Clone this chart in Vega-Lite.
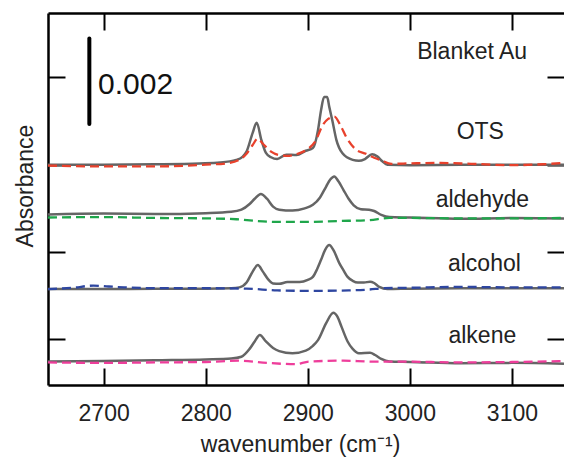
{
 "$schema": "https://vega.github.io/schema/vega-lite/v6.json",
 "width": 516,
 "height": 372,
 "autosize": {"type": "none"},
 "padding": {"left": 48, "top": 13, "right": 0, "bottom": 75},
 "config": {"font": "Liberation Sans", "view": {"stroke": null}, "axis": {"grid": false}},
 "datasets": {
  "spectra": [
   {"s":"OTS","k":"measured","w":2645.5,"a":4.00},{"s":"OTS","k":"measured","w":2700,"a":4.00},{"s":"OTS","k":"measured","w":2750,"a":4.01},{"s":"OTS","k":"measured","w":2794,"a":4.03},{"s":"OTS","k":"measured","w":2814,"a":4.05},{"s":"OTS","k":"measured","w":2830,"a":4.11},{"s":"OTS","k":"measured","w":2836,"a":4.18},{"s":"OTS","k":"measured","w":2840,"a":4.30},{"s":"OTS","k":"measured","w":2846,"a":4.73},{"s":"OTS","k":"measured","w":2850,"a":4.96},{"s":"OTS","k":"measured","w":2854.5,"a":4.57},{"s":"OTS","k":"measured","w":2859,"a":4.27},{"s":"OTS","k":"measured","w":2864,"a":4.17},{"s":"OTS","k":"measured","w":2870,"a":4.13},{"s":"OTS","k":"measured","w":2879,"a":4.23},{"s":"OTS","k":"measured","w":2889,"a":4.22},{"s":"OTS","k":"measured","w":2898,"a":4.32},{"s":"OTS","k":"measured","w":2905,"a":4.38},{"s":"OTS","k":"measured","w":2910,"a":4.79},{"s":"OTS","k":"measured","w":2913,"a":5.25},{"s":"OTS","k":"measured","w":2916,"a":5.55},{"s":"OTS","k":"measured","w":2919,"a":5.55},{"s":"OTS","k":"measured","w":2921,"a":5.33},{"s":"OTS","k":"measured","w":2924,"a":5.02},{"s":"OTS","k":"measured","w":2928,"a":4.57},{"s":"OTS","k":"measured","w":2934,"a":4.26},{"s":"OTS","k":"measured","w":2944,"a":4.11},{"s":"OTS","k":"measured","w":2950,"a":4.09},{"s":"OTS","k":"measured","w":2956,"a":4.13},{"s":"OTS","k":"measured","w":2963,"a":4.24},{"s":"OTS","k":"measured","w":2968,"a":4.19},{"s":"OTS","k":"measured","w":2973,"a":4.08},{"s":"OTS","k":"measured","w":2978,"a":4.00},{"s":"OTS","k":"measured","w":3000,"a":3.99},{"s":"OTS","k":"measured","w":3050,"a":4.00},{"s":"OTS","k":"measured","w":3100,"a":4.00},{"s":"OTS","k":"measured","w":3151,"a":4.00},

   {"s":"OTS","k":"reference","w":2645.5,"a":3.98},{"s":"OTS","k":"reference","w":2700,"a":3.96},{"s":"OTS","k":"reference","w":2750,"a":3.96},{"s":"OTS","k":"reference","w":2800,"a":4.00},{"s":"OTS","k":"reference","w":2820,"a":4.03},{"s":"OTS","k":"reference","w":2832,"a":4.10},{"s":"OTS","k":"reference","w":2840,"a":4.25},{"s":"OTS","k":"reference","w":2846,"a":4.45},{"s":"OTS","k":"reference","w":2851,"a":4.60},{"s":"OTS","k":"reference","w":2856,"a":4.48},{"s":"OTS","k":"reference","w":2864,"a":4.30},{"s":"OTS","k":"reference","w":2872,"a":4.22},{"s":"OTS","k":"reference","w":2880,"a":4.20},{"s":"OTS","k":"reference","w":2890,"a":4.25},{"s":"OTS","k":"reference","w":2898,"a":4.33},{"s":"OTS","k":"reference","w":2907,"a":4.52},{"s":"OTS","k":"reference","w":2915,"a":4.92},{"s":"OTS","k":"reference","w":2920,"a":5.05},{"s":"OTS","k":"reference","w":2926,"a":5.10},{"s":"OTS","k":"reference","w":2932,"a":4.90},{"s":"OTS","k":"reference","w":2938,"a":4.62},{"s":"OTS","k":"reference","w":2947,"a":4.35},{"s":"OTS","k":"reference","w":2957,"a":4.25},{"s":"OTS","k":"reference","w":2965,"a":4.16},{"s":"OTS","k":"reference","w":2972,"a":4.10},{"s":"OTS","k":"reference","w":2982,"a":4.02},{"s":"OTS","k":"reference","w":3000,"a":4.03},{"s":"OTS","k":"reference","w":3030,"a":4.04},{"s":"OTS","k":"reference","w":3060,"a":4.02},{"s":"OTS","k":"reference","w":3100,"a":3.99},{"s":"OTS","k":"reference","w":3130,"a":4.01},{"s":"OTS","k":"reference","w":3151,"a":4.04},

   {"s":"aldehyde","k":"measured","w":2645.5,"a":2.86},{"s":"aldehyde","k":"measured","w":2700,"a":2.88},{"s":"aldehyde","k":"measured","w":2750,"a":2.87},{"s":"aldehyde","k":"measured","w":2800,"a":2.89},{"s":"aldehyde","k":"measured","w":2825,"a":2.92},{"s":"aldehyde","k":"measured","w":2835,"a":2.97},{"s":"aldehyde","k":"measured","w":2843,"a":3.10},{"s":"aldehyde","k":"measured","w":2848,"a":3.22},{"s":"aldehyde","k":"measured","w":2854,"a":3.33},{"s":"aldehyde","k":"measured","w":2860,"a":3.22},{"s":"aldehyde","k":"measured","w":2866,"a":3.04},{"s":"aldehyde","k":"measured","w":2872,"a":2.97},{"s":"aldehyde","k":"measured","w":2885,"a":2.95},{"s":"aldehyde","k":"measured","w":2897,"a":3.00},{"s":"aldehyde","k":"measured","w":2905,"a":3.08},{"s":"aldehyde","k":"measured","w":2912,"a":3.25},{"s":"aldehyde","k":"measured","w":2918,"a":3.50},{"s":"aldehyde","k":"measured","w":2922,"a":3.66},{"s":"aldehyde","k":"measured","w":2926,"a":3.73},{"s":"aldehyde","k":"measured","w":2930,"a":3.62},{"s":"aldehyde","k":"measured","w":2935,"a":3.42},{"s":"aldehyde","k":"measured","w":2940,"a":3.22},{"s":"aldehyde","k":"measured","w":2945,"a":3.07},{"s":"aldehyde","k":"measured","w":2952,"a":2.98},{"s":"aldehyde","k":"measured","w":2960,"a":2.97},{"s":"aldehyde","k":"measured","w":2965,"a":2.94},{"s":"aldehyde","k":"measured","w":2972,"a":2.85},{"s":"aldehyde","k":"measured","w":2980,"a":2.80},{"s":"aldehyde","k":"measured","w":3000,"a":2.79},{"s":"aldehyde","k":"measured","w":3050,"a":2.76},{"s":"aldehyde","k":"measured","w":3100,"a":2.78},{"s":"aldehyde","k":"measured","w":3151,"a":2.77},

   {"s":"aldehyde","k":"reference","w":2645.5,"a":2.79},{"s":"aldehyde","k":"reference","w":2700,"a":2.80},{"s":"aldehyde","k":"reference","w":2750,"a":2.78},{"s":"aldehyde","k":"reference","w":2800,"a":2.77},{"s":"aldehyde","k":"reference","w":2830,"a":2.75},{"s":"aldehyde","k":"reference","w":2850,"a":2.71},{"s":"aldehyde","k":"reference","w":2870,"a":2.69},{"s":"aldehyde","k":"reference","w":2900,"a":2.69},{"s":"aldehyde","k":"reference","w":2930,"a":2.71},{"s":"aldehyde","k":"reference","w":2960,"a":2.73},{"s":"aldehyde","k":"reference","w":2980,"a":2.78},{"s":"aldehyde","k":"reference","w":3000,"a":2.78},{"s":"aldehyde","k":"reference","w":3050,"a":2.77},{"s":"aldehyde","k":"reference","w":3100,"a":2.77},{"s":"aldehyde","k":"reference","w":3151,"a":2.78},

   {"s":"alcohol","k":"measured","w":2645.5,"a":1.15},{"s":"alcohol","k":"measured","w":2700,"a":1.15},{"s":"alcohol","k":"measured","w":2750,"a":1.16},{"s":"alcohol","k":"measured","w":2800,"a":1.16},{"s":"alcohol","k":"measured","w":2825,"a":1.17},{"s":"alcohol","k":"measured","w":2833,"a":1.19},{"s":"alcohol","k":"measured","w":2840,"a":1.30},{"s":"alcohol","k":"measured","w":2846,"a":1.55},{"s":"alcohol","k":"measured","w":2851,"a":1.70},{"s":"alcohol","k":"measured","w":2856,"a":1.55},{"s":"alcohol","k":"measured","w":2861,"a":1.38},{"s":"alcohol","k":"measured","w":2866,"a":1.28},{"s":"alcohol","k":"measured","w":2872,"a":1.27},{"s":"alcohol","k":"measured","w":2880,"a":1.31},{"s":"alcohol","k":"measured","w":2892,"a":1.31},{"s":"alcohol","k":"measured","w":2900,"a":1.36},{"s":"alcohol","k":"measured","w":2905,"a":1.43},{"s":"alcohol","k":"measured","w":2909,"a":1.60},{"s":"alcohol","k":"measured","w":2913,"a":1.82},{"s":"alcohol","k":"measured","w":2917,"a":2.05},{"s":"alcohol","k":"measured","w":2921,"a":2.16},{"s":"alcohol","k":"measured","w":2925,"a":2.05},{"s":"alcohol","k":"measured","w":2931,"a":1.74},{"s":"alcohol","k":"measured","w":2935,"a":1.58},{"s":"alcohol","k":"measured","w":2939,"a":1.43},{"s":"alcohol","k":"measured","w":2944,"a":1.34},{"s":"alcohol","k":"measured","w":2949,"a":1.30},{"s":"alcohol","k":"measured","w":2955,"a":1.30},{"s":"alcohol","k":"measured","w":2961,"a":1.32},{"s":"alcohol","k":"measured","w":2965,"a":1.29},{"s":"alcohol","k":"measured","w":2970,"a":1.20},{"s":"alcohol","k":"measured","w":2978,"a":1.15},{"s":"alcohol","k":"measured","w":3000,"a":1.16},{"s":"alcohol","k":"measured","w":3050,"a":1.17},{"s":"alcohol","k":"measured","w":3100,"a":1.17},{"s":"alcohol","k":"measured","w":3151,"a":1.17},

   {"s":"alcohol","k":"reference","w":2645.5,"a":1.15},{"s":"alcohol","k":"reference","w":2670,"a":1.18},{"s":"alcohol","k":"reference","w":2690,"a":1.23},{"s":"alcohol","k":"reference","w":2705,"a":1.21},{"s":"alcohol","k":"reference","w":2720,"a":1.19},{"s":"alcohol","k":"reference","w":2760,"a":1.17},{"s":"alcohol","k":"reference","w":2800,"a":1.17},{"s":"alcohol","k":"reference","w":2840,"a":1.16},{"s":"alcohol","k":"reference","w":2870,"a":1.12},{"s":"alcohol","k":"reference","w":2900,"a":1.11},{"s":"alcohol","k":"reference","w":2940,"a":1.12},{"s":"alcohol","k":"reference","w":2960,"a":1.14},{"s":"alcohol","k":"reference","w":2975,"a":1.17},{"s":"alcohol","k":"reference","w":3000,"a":1.18},{"s":"alcohol","k":"reference","w":3050,"a":1.20},{"s":"alcohol","k":"reference","w":3100,"a":1.19},{"s":"alcohol","k":"reference","w":3151,"a":1.19},

   {"s":"alkene","k":"measured","w":2645.5,"a":-0.51},{"s":"alkene","k":"measured","w":2700,"a":-0.50},{"s":"alkene","k":"measured","w":2750,"a":-0.48},{"s":"alkene","k":"measured","w":2800,"a":-0.46},{"s":"alkene","k":"measured","w":2825,"a":-0.44},{"s":"alkene","k":"measured","w":2835,"a":-0.40},{"s":"alkene","k":"measured","w":2843,"a":-0.22},{"s":"alkene","k":"measured","w":2848,"a":-0.05},{"s":"alkene","k":"measured","w":2853,"a":0.10},{"s":"alkene","k":"measured","w":2859,"a":-0.05},{"s":"alkene","k":"measured","w":2866,"a":-0.20},{"s":"alkene","k":"measured","w":2872,"a":-0.27},{"s":"alkene","k":"measured","w":2885,"a":-0.32},{"s":"alkene","k":"measured","w":2898,"a":-0.26},{"s":"alkene","k":"measured","w":2905,"a":-0.15},{"s":"alkene","k":"measured","w":2910,"a":-0.02},{"s":"alkene","k":"measured","w":2918,"a":0.37},{"s":"alkene","k":"measured","w":2925,"a":0.61},{"s":"alkene","k":"measured","w":2929,"a":0.52},{"s":"alkene","k":"measured","w":2933,"a":0.29},{"s":"alkene","k":"measured","w":2939,"a":-0.05},{"s":"alkene","k":"measured","w":2944,"a":-0.22},{"s":"alkene","k":"measured","w":2950,"a":-0.32},{"s":"alkene","k":"measured","w":2961,"a":-0.31},{"s":"alkene","k":"measured","w":2966,"a":-0.36},{"s":"alkene","k":"measured","w":2972,"a":-0.45},{"s":"alkene","k":"measured","w":2980,"a":-0.51},{"s":"alkene","k":"measured","w":3000,"a":-0.52},{"s":"alkene","k":"measured","w":3050,"a":-0.55},{"s":"alkene","k":"measured","w":3100,"a":-0.54},{"s":"alkene","k":"measured","w":3151,"a":-0.56},

   {"s":"alkene","k":"reference","w":2645.5,"a":-0.53},{"s":"alkene","k":"reference","w":2700,"a":-0.54},{"s":"alkene","k":"reference","w":2750,"a":-0.53},{"s":"alkene","k":"reference","w":2800,"a":-0.52},{"s":"alkene","k":"reference","w":2833,"a":-0.49},{"s":"alkene","k":"reference","w":2860,"a":-0.54},{"s":"alkene","k":"reference","w":2888,"a":-0.57},{"s":"alkene","k":"reference","w":2901,"a":-0.51},{"s":"alkene","k":"reference","w":2935,"a":-0.49},{"s":"alkene","k":"reference","w":2963,"a":-0.51},{"s":"alkene","k":"reference","w":2990,"a":-0.51},{"s":"alkene","k":"reference","w":3050,"a":-0.53},{"s":"alkene","k":"reference","w":3100,"a":-0.52},{"s":"alkene","k":"reference","w":3151,"a":-0.50}
  ],
  "labels": [
   {"label":"Blanket Au","w":3061,"a":6.42},
   {"label":"OTS","w":3069,"a":4.58},
   {"label":"aldehyde","w":3071,"a":3.04},
   {"label":"alcohol","w":3073,"a":1.57},
   {"label":"alkene","w":3071,"a":-0.08}
  ],
  "bar": [{"w":2686,"lo":4.93,"hi":6.89,"text":"0.002","tw":2694.5,"ta":5.62}]
 },
 "layer": [
  {
   "data": {"name": "spectra"},
   "transform": [{"filter": "datum.k === 'measured'"}],
   "mark": {"type": "line", "color": "#656565", "strokeWidth": 2.5, "interpolate": "monotone"},
   "encoding": {
    "x": {"field": "w", "type": "quantitative", "scale": {"domain": [2645.5, 3151], "nice": false, "zero": false},
     "axis": {"orient": "bottom", "title": "wavenumber (cm⁻¹)", "values": [2700, 2800, 2900, 3000, 3100], "format": "d",
      "tickSize": -17, "tickWidth": 2, "tickColor": "#000", "domainColor": "#000", "domainWidth": 2.5,
      "labelFontSize": 23, "labelColor": "#222", "labelPadding": 34, "labelFlush": false,
      "titleFontSize": 23, "titleFontWeight": "normal", "titleColor": "#222", "titlePadding": 8, "titleX": 252, "grid": false}},
    "y": {"field": "a", "type": "quantitative", "scale": {"domain": [-1.047, 7.475], "nice": false, "zero": false},
     "axis": {"orient": "left", "title": "Absorbance", "labels": false, "values": [0, 2, 4, 6],
      "tickSize": -17, "tickWidth": 2, "tickColor": "#000", "domainColor": "#000", "domainWidth": 2.5,
      "titleFontSize": 23, "titleFontWeight": "normal", "titleColor": "#222", "titlePadding": 10, "titleY": 172.5, "grid": false}},
    "detail": {"field": "s"}
   }
  },
  {
   "data": {"name": "spectra"},
   "transform": [{"filter": "datum.k === 'reference'"}],
   "mark": {"type": "line", "strokeWidth": 2.3, "strokeDash": [9, 5], "interpolate": "monotone"},
   "encoding": {
    "x": {"field": "w", "type": "quantitative", "scale": {"domain": [2645.5, 3151], "nice": false, "zero": false},
     "axis": {"orient": "top", "title": null, "labels": false, "values": [2700, 2800, 2900, 3000, 3100],
      "tickSize": -17, "tickWidth": 2, "tickColor": "#000", "domainColor": "#000", "domainWidth": 2.5, "grid": false}},
    "y": {"field": "a", "type": "quantitative", "scale": {"domain": [-1.047, 7.475], "nice": false, "zero": false},
     "axis": {"orient": "right", "title": null, "labels": false, "values": [0, 2, 4, 6], "domain": false,
      "tickSize": -17, "tickWidth": 2, "tickColor": "#000", "grid": false}},
    "color": {"field": "s", "type": "nominal", "legend": null,
     "scale": {"domain": ["OTS", "aldehyde", "alcohol", "alkene"], "range": ["#e8412c", "#1fa64b", "#2e46a0", "#ee3e9b"]}}
   }
  },
  {
   "data": {"name": "bar"},
   "mark": {"type": "rule", "strokeWidth": 4, "color": "#000", "strokeCap": "round"},
   "encoding": {
    "x": {"field": "w", "type": "quantitative", "axis": null},
    "y": {"field": "lo", "type": "quantitative", "axis": null},
    "y2": {"field": "hi"}
   }
  },
  {
   "data": {"name": "bar"},
   "mark": {"type": "text", "fontSize": 30, "align": "left", "baseline": "alphabetic", "color": "#111"},
   "encoding": {
    "x": {"field": "tw", "type": "quantitative", "axis": null},
    "y": {"field": "ta", "type": "quantitative", "axis": null},
    "text": {"field": "text"}
   }
  },
  {
   "data": {"name": "labels"},
   "mark": {"type": "text", "fontSize": 23, "align": "center", "baseline": "alphabetic", "color": "#222"},
   "encoding": {
    "x": {"field": "w", "type": "quantitative", "axis": null},
    "y": {"field": "a", "type": "quantitative", "axis": null},
    "text": {"field": "label"}
   }
  }
 ],
 "resolve": {"axis": {"x": "independent", "y": "independent"}}
}
